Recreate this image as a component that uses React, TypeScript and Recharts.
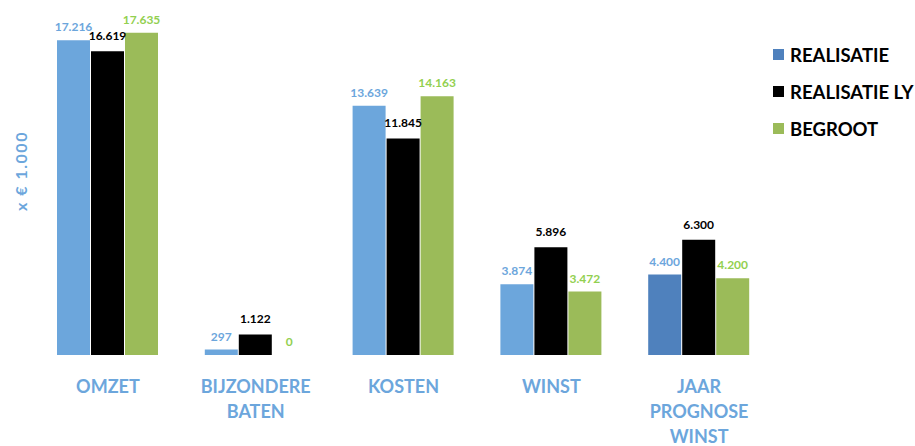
import React from 'react';
import { BarChart, Bar, XAxis, YAxis, LabelList, Cell } from 'recharts';

const categories = ['OMZET', 'BIJZONDERE\nBATEN', 'KOSTEN', 'WINST', 'JAAR\nPROGNOSE\nWINST'];
const realisatie = [17216, 297, 13639, 3874, 4400];
const realisatieLy = [16619, 1122, 11845, 5896, 6300];
const begroot = [17635, 0, 14163, 3472, 4200];
const realisatieColors = ['#6ca6dc', '#6ca6dc', '#6ca6dc', '#6ca6dc', '#4f81bd'];

const seriesInfo = [
  { key: 'realisatie', name: 'REALISATIE', color: '#4f81bd' },
  { key: 'realisatieLy', name: 'REALISATIE LY', color: '#000000' },
  { key: 'begroot', name: 'BEGROOT', color: '#9bbb59' },
];

const data = categories.map((name, i) => ({
  name,
  realisatie: realisatie[i],
  realisatieLy: realisatieLy[i],
  begroot: begroot[i],
}));

const FONT = 'Lato, "Open Sans", sans-serif';

const fmt = (v: any) => String(v).replace(/\B(?=(\d{3})+(?!\d))/g, '.');

function CategoryTick(props: any) {
  const { x, y, payload } = props;
  const lines = String(payload.value).split('\n');
  return (
    <text x={x} y={y} textAnchor="middle" fill="#6ca6dc" fontFamily={FONT} fontWeight={700} fontSize={18}>
      {lines.map((l, i) => (
        <tspan key={i} x={x} dy={i === 0 ? 30 : 25}>
          {l}
        </tspan>
      ))}
    </text>
  );
}

const makeLabel = (color: string, gap: number) => (props: any) => {
  const { x, y, width, value } = props;
  return (
    <text
      x={Number(x) + Number(width) / 2}
      y={Number(y) - gap}
      textAnchor="middle"
      fill={color}
      fontFamily={FONT}
      fontWeight={700}
      fontSize={12}
    >
      {fmt(value)}
    </text>
  );
};

export default function App() {
  return (
    <div style={{ width: 915, height: 446, position: 'relative', overflow: 'hidden' }}>
      <style>{`body{margin:0}`}</style>
      <BarChart
        width={915}
        height={446}
        data={data}
        margin={{ top: 26, right: 142, bottom: 0, left: 34 }}
        barCategoryGap={23}
        barGap={1}
      >
        <XAxis dataKey="name" axisLine={false} tickLine={false} tick={<CategoryTick />} height={91} interval={0} />
        <YAxis hide domain={[0, 18000]} />
        <Bar dataKey="realisatie" isAnimationActive={false}>
          {data.map((d, i) => (
            <Cell key={i} fill={realisatieColors[i]} />
          ))}
          <LabelList dataKey="realisatie" content={makeLabel('#6ca6dc', 9)} />
        </Bar>
        <Bar dataKey="realisatieLy" fill="#000000" isAnimationActive={false}>
          <LabelList dataKey="realisatieLy" content={makeLabel('#000000', 11)} />
        </Bar>
        <Bar dataKey="begroot" fill="#9bbb59" minPointSize={0.01} isAnimationActive={false}>
          <LabelList dataKey="begroot" content={makeLabel('#92d050', 9)} />
        </Bar>
      </BarChart>
      <div
        style={{
          position: 'absolute',
          left: 773,
          top: 36,
          fontFamily: FONT,
          fontWeight: 700,
          fontSize: 18.5,
          color: '#000',
        }}
      >
        {seriesInfo.map((s) => (
          <div key={s.key} style={{ display: 'flex', alignItems: 'center', height: 37, whiteSpace: 'nowrap' }}>
            <span style={{ display: 'inline-block', width: 11, height: 11, background: s.color, marginRight: 6 }} />
            {s.name}
          </div>
        ))}
      </div>
      <div
        style={{
          position: 'absolute',
          left: 20,
          top: 171,
          transform: 'translate(-50%, -50%) rotate(-90deg)',
          fontFamily: FONT,
          fontWeight: 700,
          fontSize: 16,
          letterSpacing: 1.5,
          color: '#6ca6dc',
          whiteSpace: 'nowrap',
        }}
      >
        x € 1.000
      </div>
    </div>
  );
}
